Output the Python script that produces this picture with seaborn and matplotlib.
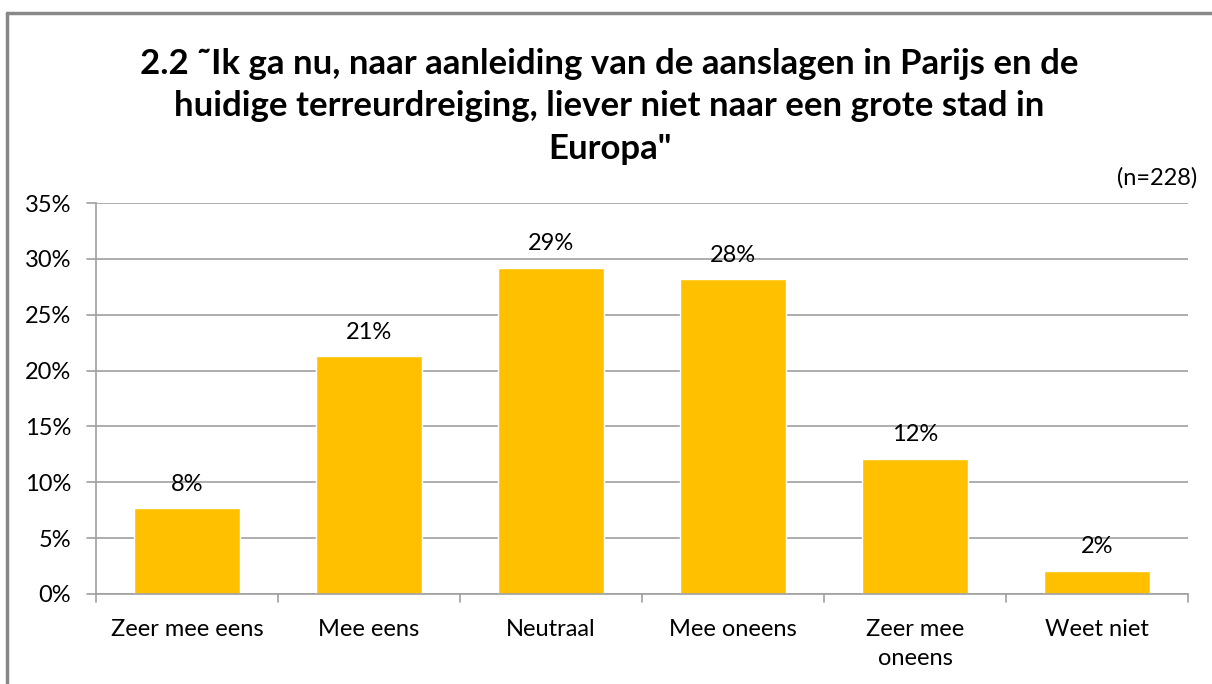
import matplotlib
matplotlib.use("Agg")
import matplotlib.pyplot as plt
import seaborn as sns
import pandas as pd
from matplotlib.lines import Line2D

# Data
categorieen = ["Zeer mee eens", "Mee eens", "Neutraal", "Mee oneens", "Zeer mee\noneens", "Weet niet"]
percentages = [7.7, 21.3, 29.2, 28.2, 12.1, 2.1]
labels = ["8%", "21%", "29%", "28%", "12%", "2%"]
y_ticks = [0, 5, 10, 15, 20, 25, 30, 35]

titel = ('2.2 \u02dcIk ga nu, naar aanleiding van de aanslagen in Parijs en de\n'
         'huidige terreurdreiging, liever niet naar een grote stad in\nEuropa"')

df = pd.DataFrame({"categorie": categorieen, "pct": percentages})

sns.set_theme(style="white")
plt.rcParams["font.family"] = ["Lato", "DejaVu Sans"]
plt.rcParams["text.color"] = "black"
plt.rcParams["xtick.color"] = "black"
plt.rcParams["ytick.color"] = "black"

fig = plt.figure(figsize=(12.12, 6.84), dpi=100)
ax = fig.add_axes([96 / 1212, 1 - 594 / 684, 1092 / 1212, 391 / 684])

sns.barplot(data=df, x="categorie", y="pct", color="#FFC000", width=0.58,
            saturation=1, ax=ax)

grijs = "#A0A0A0"
ax.set_ylim(0, 35)
ax.set_xlim(-0.5, len(categorieen) - 0.5)
ax.set_yticks(y_ticks)
ax.set_yticklabels([f"{t}%" for t in y_ticks], fontsize=17)
ax.tick_params(axis="x", labelsize=17, length=0, pad=18)
ax.tick_params(axis="y", length=0, pad=18)
for t in ax.get_xticklabels():
    t.set_linespacing(1.45)
ax.yaxis.grid(True, color=grijs, linewidth=1.2)
ax.set_axisbelow(True)
ax.set_xlabel("")
ax.set_ylabel("")
for s in ["top", "right"]:
    ax.spines[s].set_visible(False)
for s in ["left", "bottom"]:
    ax.spines[s].set_color(grijs)
    ax.spines[s].set_linewidth(1.2)

# kleine streepjes buiten de as
for t in y_ticks:
    ax.plot([-0.55, -0.5], [t, t], color=grijs, lw=1.2, clip_on=False)
for i in range(len(categorieen) + 1):
    ax.plot([i - 0.5, i - 0.5], [0, -0.7], color=grijs, lw=1.2, clip_on=False)

for i, (v, lab) in enumerate(zip(percentages, labels)):
    ax.text(i, v + 1.2, lab, ha="center", va="bottom", fontsize=17, color="black")

fig.text(0.503, 1 - 48 / 684, titel, ha="center", va="top", fontsize=25,
         fontweight="bold", linespacing=1.4)
fig.text(1197 / 1212, 1 - 178 / 684, "(n=228)", ha="right", va="center", fontsize=17)

# rand van het grafiekgebied
fig.add_artist(Line2D([7 / 1212, 7 / 1212], [0, 1 - 13 / 684], color="#888888", lw=2.5,
                      transform=fig.transFigure))
fig.add_artist(Line2D([7 / 1212, 1], [1 - 13 / 684, 1 - 13 / 684], color="#888888", lw=2.5,
                      transform=fig.transFigure))

fig.savefig("out.png", dpi=100)
